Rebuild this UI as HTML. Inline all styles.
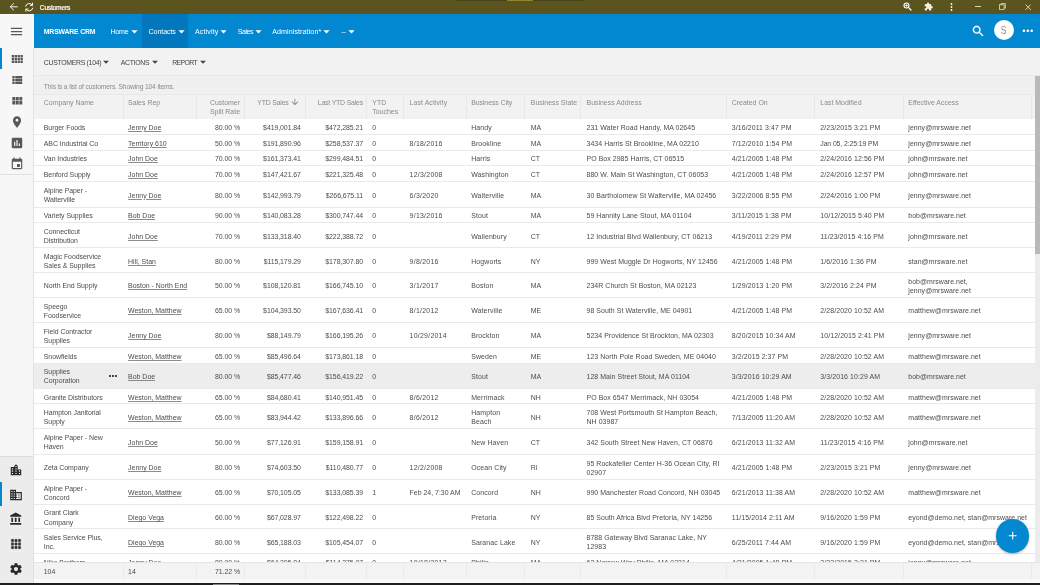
<!DOCTYPE html>
<html><head><meta charset="utf-8"><title>Customers</title>
<style>
html,body{margin:0;padding:0}
body{width:1040px;height:585px;overflow:hidden;position:relative;background:#f0f0f0;font-family:"Liberation Sans",sans-serif;font-size:6.95px;color:#4c4c4c;-webkit-font-smoothing:antialiased}
.abs,.ic,.c,.row,.t{position:absolute}
.ic{display:block}
.t{white-space:nowrap;line-height:10px}
#title{left:0;top:0;width:1040px;height:13.6px;background:#5b541f}
#nav{left:33.8px;top:13.6px;width:1006.2px;height:34.1px;background:#0288d1}
#side{left:0;top:13.6px;width:33.8px;height:571.4px;background:#f7f7f7}
#side2{left:0;top:456px;width:33.8px;height:129px;background:#ececec}
#tool{left:33.8px;top:47.7px;width:1006.2px;height:27.3px;background:#f2f2f2}
#thead{left:33.8px;top:93.5px;width:1000.9px;height:25.8px;background:#f2f2f2;border-top:1px solid #e9e9e9;box-sizing:border-box}
#tbody{left:33.8px;top:119.3px;width:1000.9px;height:443px;background:#fff;overflow:hidden}
.row{left:-33.8px;width:1040px;border-bottom:1px solid #eaeaea;box-sizing:border-box}
.row.sel{background:#ededed}
.r0 .c{top:0.9px}
.sel .c{top:0.6px}
.c{top:2.0px;bottom:0;display:flex;align-items:center;white-space:nowrap;line-height:9.1px}
.c.r{text-align:right}
.c u{text-decoration:underline;text-decoration-thickness:0.5px;text-underline-offset:0.9px;text-decoration-color:#8c8c8c}
.h{color:#8a8a8a;align-items:flex-start;top:0;padding-top:5.1px;line-height:8.9px}
.sep{position:absolute;top:0;bottom:0;width:1px;background:#e8e8e8}
#tfoot{left:33.8px;top:562px;width:1006.2px;height:17px;background:#f3f3f3;border-top:1px solid #e4e4e4;box-sizing:border-box}
</style></head><body><div id="wrap" style="position:absolute;left:0;top:0;width:1040px;height:585px;will-change:transform">

<div id="title" class="abs">
<div class="abs" style="left:455px;top:0;width:130px;height:0.8px;background:#4a4419"></div>
<div class="abs" style="left:507px;top:0;width:26px;height:0.9px;background:#8f8735"></div>
<svg class="ic" style="left:9.4px;top:2.3px;width:9.6px;height:9.6px" viewBox="0 0 20 20"><path d="M17.5 10H3M9.5 3.4L2.8 10l6.7 6.6" fill="none" stroke="#fff" stroke-width="1.9" stroke-linecap="round" stroke-linejoin="round"/></svg>
<svg class="ic" style="left:24.4px;top:2.3px;width:10.4px;height:10.4px" viewBox="0 0 20 20"><g fill="none" stroke="#fff" stroke-width="1.9" stroke-linecap="round" stroke-linejoin="round"><path d="M3.2 8.2A7 7 0 0 1 16 6.2M16.8 11.8A7 7 0 0 1 4 13.8"/><path d="M16.4 2.2v4.2h-4.2M3.6 17.8v-4.2h4.2"/></g></svg>
<div class="t" style="-webkit-text-stroke:0.2px #fff;left:39.8px;top:3.3px;color:#fff;font-size:6.7px;letter-spacing:-0.238px">Customers</div>
<svg class="ic" style="left:903.2px;top:2.4px;width:9px;height:9px" viewBox="0 0 18 18"><g fill="none" stroke="#fff" stroke-linecap="round"><circle cx="7" cy="7" r="5" stroke-width="2.2"/><path d="M10.8 10.8L16 16" stroke-width="2.6"/><path d="M4.6 7h4.8M7 4.6v4.8" stroke-width="1.5"/></g></svg>
<svg class="ic" style="left:924.20px;top:2.10px;width:9.2px;height:9.2px;" viewBox="0 0 24 24"><path fill="#f4f1e2" d="M20.5 11H19V7c0-1.1-.9-2-2-2h-4V3.5C13 2.12 11.88 1 10.5 1S8 2.12 8 3.5V5H4c-1.1 0-1.99.9-1.99 2v3.8H3.5c1.49 0 2.7 1.21 2.7 2.7s-1.21 2.7-2.7 2.7H2V20c0 1.1.9 2 2 2h3.8v-1.5c0-1.49 1.21-2.7 2.7-2.7 1.49 0 2.7 1.21 2.7 2.7V22H17c1.1 0 2-.9 2-2v-4h1.5c1.38 0 2.5-1.12 2.5-2.5S21.88 11 20.5 11z"/></svg>
<svg class="ic" style="left:949.5px;top:3.2px;width:3px;height:8px" viewBox="0 0 3 8"><g fill="#fff"><circle cx="1.5" cy="1" r="0.9"/><circle cx="1.5" cy="4" r="0.9"/><circle cx="1.5" cy="7" r="0.9"/></g></svg>
<div class="abs" style="left:975.2px;top:6.2px;width:5.6px;height:0.7px;background:#d9d5b8"></div>
<svg class="ic" style="left:998.8px;top:3.4px;width:7px;height:7px" viewBox="0 0 14 14"><g fill="none" stroke="#f4f1e2" stroke-width="1.4"><rect x="1.2" y="3.6" width="9" height="9"/><path d="M3.8 3.6V1.2h9v9h-2.6"/></g></svg>
<svg class="ic" style="left:1024.6px;top:3.6px;width:6.4px;height:6.4px" viewBox="0 0 12 12"><path d="M1 1l10 10M11 1L1 11" stroke="#f4f1e2" stroke-width="1.5" fill="none"/></svg>
</div>
<div id="side" class="abs"></div><div id="side2" class="abs"></div>
<div class="abs" style="left:33.4px;top:47.7px;width:0.8px;height:537px;background:#e2e2e2"></div>
<div class="abs" style="left:0;top:174.4px;width:33.8px;height:0.8px;background:#e0e0e0"></div>
<div class="abs" style="left:0;top:455.6px;width:33.8px;height:0.8px;background:#dcdcdc"></div>
<div class="abs" style="left:0;top:48.2px;width:1.7px;height:20.6px;background:#0288d1"></div>
<div class="abs" style="left:0;top:482.3px;width:2.2px;height:24px;background:#0288d1"></div>
<svg class="ic" style="left:9.20px;top:23.50px;width:15px;height:15px;" viewBox="0 0 24 24"><path fill="#585858" d="M3 18h18v-2H3v2zm0-5h18v-2H3v2zm0-7v2h18V6H3z"/></svg>
<svg class="ic" style="left:9.80px;top:51.50px;width:14px;height:14px;" viewBox="0 0 24 24"><path fill="#585858" d="M3 9h4V5H3v4zm0 5h4v-4H3v4zm5 0h4v-4H8v4zm5 0h4v-4h-4v4zM8 9h4V5H8v4zm5-4v4h4V5h-4zm5 9h4v-4h-4v4zM3 19h4v-4H3v4zm5 0h4v-4H8v4zm5 0h4v-4h-4v4zm5 0h4v-4h-4v4zm0-14v4h4V5h-4z"/></svg>
<svg class="ic" style="left:9.80px;top:72.60px;width:14px;height:14px;" viewBox="0 0 24 24"><path fill="#585858" d="M4 14h4v-4H4v4zm0 5h4v-4H4v4zM4 9h4V5H4v4zm5 5h12v-4H9v4zm0 5h12v-4H9v4zM9 5v4h12V5H9z"/></svg>
<svg class="ic" style="left:9.80px;top:93.60px;width:14px;height:14px;" viewBox="0 0 24 24"><path fill="#585858" d="M4 11h5V5H4v6zm0 7h5v-6H4v6zm6 0h5v-6h-5v6zm6 0h5v-6h-5v6zm-6-7h5V5h-5v6zm6-6v6h5V5h-5z"/></svg>
<svg class="ic" style="left:9.80px;top:115.20px;width:14px;height:14px;" viewBox="0 0 24 24"><path fill="#585858" d="M12 2C8.13 2 5 5.13 5 9c0 5.25 7 13 7 13s7-7.75 7-13c0-3.87-3.13-7-7-7zm0 9.5c-1.38 0-2.5-1.12-2.5-2.5s1.12-2.5 2.5-2.5 2.5 1.12 2.5 2.5-1.12 2.5-2.5 2.5z"/></svg>
<svg class="ic" style="left:9.80px;top:136.00px;width:14px;height:14px;" viewBox="0 0 24 24"><path fill="#585858" d="M19 3H5c-1.1 0-2 .9-2 2v14c0 1.1.9 2 2 2h14c1.1 0 2-.9 2-2V5c0-1.1-.9-2-2-2zM9 17H7v-7h2v7zm4 0h-2V7h2v10zm4 0h-2v-4h2v4z"/></svg>
<svg class="ic" style="left:9.80px;top:156.60px;width:14px;height:14px;" viewBox="0 0 24 24"><path fill="#585858" d="M17 12h-5v5h5v-5zM16 1v2H8V1H6v2H5c-1.11 0-1.99.9-1.99 2L3 19c0 1.1.89 2 2 2h14c1.1 0 2-.9 2-2V5c0-1.1-.9-2-2-2h-1V1h-2zm3 18H5V8h14v11z"/></svg>
<svg class="ic" style="left:9.20px;top:462.50px;width:14px;height:14px;" viewBox="0 0 24 24"><path fill="#2a2a2a" d="M15 11V5l-3-3-3 3v2H3v14h18V11h-6zm-8 8H5v-2h2v2zm0-4H5v-2h2v2zm0-4H5V9h2v2zm6 8h-2v-2h2v2zm0-4h-2v-2h2v2zm0-4h-2V9h2v2zm0-4h-2V5h2v2zm6 12h-2v-2h2v2zm0-4h-2v-2h2v2z"/></svg>
<svg class="ic" style="left:9.20px;top:487.60px;width:14px;height:14px;" viewBox="0 0 24 24"><path fill="#2a2a2a" d="M12 7V3H2v18h20V7H12zM6 19H4v-2h2v2zm0-4H4v-2h2v2zm0-4H4V9h2v2zm0-4H4V5h2v2zm4 12H8v-2h2v2zm0-4H8v-2h2v2zm0-4H8V9h2v2zm0-4H8V5h2v2zm10 12h-8v-2h2v-2h-2v-2h2v-2h-2V9h8v10zm-2-8h-2v2h2v-2zm0 4h-2v2h2v-2z"/></svg>
<svg class="ic" style="left:9.20px;top:512.40px;width:14px;height:14px;" viewBox="0 0 24 24"><path fill="#2a2a2a" d="M4 10v7h3v-7H4zm6 0v7h3v-7h-3zM2 22h19v-3H2v3zm14-12v7h3v-7h-3zm-4.5-9L2 6v2h19V6l-9.5-5z"/></svg>
<svg class="ic" style="left:9.20px;top:537.20px;width:14px;height:14px;stroke:#2a2a2a;stroke-width:0.5px" viewBox="0 0 24 24"><path fill="#2a2a2a" d="M4 8h4V4H4v4zm6 12h4v-4h-4v4zm-6 0h4v-4H4v4zm0-6h4v-4H4v4zm6 0h4v-4h-4v4zm6-10v4h4V4h-4zm-6 4h4V4h-4v4zm6 6h4v-4h-4v4zm0 6h4v-4h-4v4z"/></svg>
<svg class="ic" style="left:9.20px;top:562.40px;width:14px;height:14px;" viewBox="0 0 24 24"><path fill="#2a2a2a" d="M19.43 12.98c.04-.32.07-.64.07-.98s-.03-.66-.07-.98l2.11-1.65c.19-.15.24-.42.12-.64l-2-3.46c-.12-.22-.39-.3-.61-.22l-2.49 1c-.52-.4-1.08-.73-1.69-.98l-.38-2.65C14.46 2.18 14.25 2 14 2h-4c-.25 0-.46.18-.49.42l-.38 2.65c-.61.25-1.17.59-1.69.98l-2.49-1c-.23-.09-.49 0-.61.22l-2 3.46c-.13.22-.07.49.12.64l2.11 1.65c-.04.32-.07.65-.07.98s.03.66.07.98l-2.11 1.65c-.19.15-.24.42-.12.64l2 3.46c.12.22.39.3.61.22l2.49-1c.52.4 1.08.73 1.69.98l.38 2.65c.03.24.24.42.49.42h4c.25 0 .46-.18.49-.42l.38-2.65c.61-.25 1.17-.59 1.69-.98l2.49 1c.23.09.49 0 .61-.22l2-3.46c.12-.22.07-.49-.12-.64l-2.11-1.65zM12 15.5c-1.93 0-3.5-1.57-3.5-3.5s1.57-3.5 3.5-3.5 3.5 1.57 3.5 3.5-1.57 3.5-3.5 3.5z"/></svg>
<div id="nav" class="abs"></div>
<div class="abs" style="left:141.6px;top:13.6px;width:46.2px;height:34.1px;background:#0277bd"></div>
<div class="t" style="left:43.8px;top:26.8px;color:#fff;font-size:6.9px;letter-spacing:-0.190px;font-weight:bold">MRSWARE CRM</div>
<div class="t" style="left:110.4px;top:26.5px;color:#fff;font-size:7.1px;letter-spacing:-0.184px">Home</div>
<svg class="ic" style="left:127.40px;top:23.70px;width:15px;height:15px;" viewBox="0 0 24 24"><path fill="#fff" d="M7 10l5 5 5-5z"/></svg>
<div class="t" style="left:148.6px;top:26.5px;color:#fff;font-size:7.1px;letter-spacing:-0.100px">Contacts</div>
<svg class="ic" style="left:174.00px;top:23.70px;width:15px;height:15px;" viewBox="0 0 24 24"><path fill="#fff" d="M7 10l5 5 5-5z"/></svg>
<div class="t" style="left:195.0px;top:26.5px;color:#fff;font-size:7.1px;letter-spacing:0.116px">Activity</div>
<svg class="ic" style="left:216.30px;top:23.70px;width:15px;height:15px;" viewBox="0 0 24 24"><path fill="#fff" d="M7 10l5 5 5-5z"/></svg>
<div class="t" style="left:237.7px;top:26.5px;color:#fff;font-size:7.1px;letter-spacing:-0.450px">Sales</div>
<svg class="ic" style="left:251.20px;top:23.70px;width:15px;height:15px;" viewBox="0 0 24 24"><path fill="#fff" d="M7 10l5 5 5-5z"/></svg>
<div class="t" style="left:272.2px;top:26.5px;color:#fff;font-size:7.1px;letter-spacing:0.092px">Administration*</div>
<svg class="ic" style="left:319.40px;top:23.70px;width:15px;height:15px;" viewBox="0 0 24 24"><path fill="#fff" d="M7 10l5 5 5-5z"/></svg>
<div class="t" style="left:341.6px;top:26.5px;color:#fff;font-size:7.1px;letter-spacing:-0.167px">--</div>
<svg class="ic" style="left:344.40px;top:23.70px;width:15px;height:15px;" viewBox="0 0 24 24"><path fill="#fff" d="M7 10l5 5 5-5z"/></svg>
<svg class="ic" style="left:970.70px;top:23.70px;width:14.4px;height:14.4px;stroke:#fff;stroke-width:0.5px" viewBox="0 0 24 24"><path fill="#fff" d="M15.5 14h-.79l-.28-.27C15.41 12.59 16 11.11 16 9.5 16 5.91 13.09 3 9.5 3S3 5.91 3 9.5 5.91 16 9.5 16c1.61 0 3.09-.59 4.23-1.57l.27.28v.79l5 4.99L20.49 19l-4.99-5zm-6 0C7.01 14 5 11.99 5 9.5S7.01 5 9.5 5 14 7.01 14 9.5 11.99 14 9.5 14z"/></svg>
<div class="abs" style="left:993.6px;top:20.1px;width:20.4px;height:20.4px;border-radius:50%;background:#fff"></div>
<div class="t" style="left:1000.3px;top:25.3px;color:#8c8c8c;font-size:10.6px;transform:scaleX(0.8);transform-origin:50% 50%">S</div>
<svg class="ic" style="left:1019.90px;top:22.90px;width:15.6px;height:15.6px;" viewBox="0 0 24 24"><path fill="#fff" d="M6 10c-1.1 0-2 .9-2 2s.9 2 2 2 2-.9 2-2-.9-2-2-2zm12 0c-1.1 0-2 .9-2 2s.9 2 2 2 2-.9 2-2-.9-2-2-2zm-6 0c-1.1 0-2 .9-2 2s.9 2 2 2 2-.9 2-2-.9-2-2-2z"/></svg>
<div id="tool" class="abs"></div>
<div class="abs" style="left:33.8px;top:74.5px;width:1006.2px;height:0.9px;background:#e8e8e8"></div>
<div class="t" style="left:43.8px;top:57.6px;color:#444;font-size:6.9px;letter-spacing:-0.300px">CUSTOMERS (104)</div>
<svg class="ic" style="left:99.40px;top:55.20px;width:14px;height:14px;" viewBox="0 0 24 24"><path fill="#444" d="M7 10l5 5 5-5z"/></svg>
<div class="t" style="left:120.8px;top:57.6px;color:#444;font-size:6.9px;letter-spacing:-0.320px">ACTIONS</div>
<svg class="ic" style="left:147.60px;top:55.20px;width:14px;height:14px;" viewBox="0 0 24 24"><path fill="#444" d="M7 10l5 5 5-5z"/></svg>
<div class="t" style="left:172.3px;top:57.6px;color:#444;font-size:6.9px;letter-spacing:-0.649px">REPORT</div>
<svg class="ic" style="left:195.50px;top:55.20px;width:14px;height:14px;" viewBox="0 0 24 24"><path fill="#444" d="M7 10l5 5 5-5z"/></svg>
<div class="t" style="left:43.8px;top:82.4px;color:#8a8a8a;font-size:6.7px;letter-spacing:-0.139px">This is a list of customers. Showing 104 items.</div>
<div id="thead" class="abs">
<div class="sep" style="left:89.1px"></div>
<div class="sep" style="left:162.0px"></div>
<div class="sep" style="left:210.3px"></div>
<div class="sep" style="left:271.2px"></div>
<div class="sep" style="left:332.7px"></div>
<div class="sep" style="left:369.7px"></div>
<div class="sep" style="left:432.2px"></div>
<div class="sep" style="left:490.7px"></div>
<div class="sep" style="left:546.7px"></div>
<div class="sep" style="left:692.7px"></div>
<div class="sep" style="left:780.7px"></div>
<div class="sep" style="left:869.2px"></div>
<div class="sep" style="left:997.0px"></div>
</div>
<div class="abs" style="left:0;top:93.5px;width:1040px;height:25.8px">
<div class="c h" style="left:43.8px">Company Name</div>
<div class="c h" style="left:128.1px">Sales Rep</div>
<div class="c r h" style="right:800.0px">Customer<br>Split Rate</div>
<div class="c r h" style="right:751.4px;letter-spacing:-0.2px">YTD Sales</div>
<div class="c r h" style="right:677.0px;letter-spacing:-0.2px">Last YTD Sales</div>
<div class="c h" style="left:372.3px">YTD<br>Touches</div>
<div class="c h" style="left:409.6px;letter-spacing:0.08px">Last Activity</div>
<div class="c h" style="left:471.2px;letter-spacing:-0.08px">Business City</div>
<div class="c h" style="left:530.8px">Business State</div>
<div class="c h" style="left:586.5px">Business Address</div>
<div class="c h" style="left:731.8px">Created On</div>
<div class="c h" style="left:820.3px">Last Modified</div>
<div class="c h" style="left:908.3px">Effective Access</div>
</div>
<svg class="ic" style="left:290.40px;top:97.40px;width:9.8px;height:9.8px;" viewBox="0 0 24 24"><path fill="#8a8a8a" d="M20 12l-1.41-1.41L13 16.17V4h-2v12.17l-5.58-5.59L4 12l8 8 8-8z"/></svg>
<div class="abs" style="left:1034.7px;top:75.6px;width:5.3px;height:486.4px;background:#ececec"></div>
<div class="abs" style="left:1034.7px;top:75.6px;width:5.3px;height:178.7px;background:#b9b9b9"></div>
<div id="tbody" class="abs">
<div class="row r0" style="top:0.6px;height:15.0px">
<div class="c " style="left:43.8px;letter-spacing:-0.05px">Burger Foods</div>
<div class="c " style="left:128.1px"><u>Jenny Doe</u></div>
<div class="c r " style="right:800.0px;letter-spacing:-0.07px">80.00 %</div>
<div class="c r " style="right:739.2px;letter-spacing:-0.08px">$419,001.84</div>
<div class="c r " style="right:677.0px;letter-spacing:-0.08px">$472,285.21</div>
<div class="c " style="left:372.3px">0</div>
<div class="c " style="left:471.2px;letter-spacing:0.12px">Handy</div>
<div class="c " style="left:530.8px">MA</div>
<div class="c " style="left:586.5px;letter-spacing:0.06px">231 Water Road Handy, MA 02645</div>
<div class="c " style="left:731.8px;letter-spacing:0.1px">3/16/2011 3:47 PM</div>
<div class="c " style="left:820.3px;letter-spacing:0.09px">2/23/2015 3:21 PM</div>
<div class="c " style="left:908.3px;letter-spacing:0.05px">jenny@mrsware.net</div>
</div>
<div class="row" style="top:15.6px;height:16.1px">
<div class="c " style="left:43.8px;letter-spacing:-0.05px">ABC Industrial Co</div>
<div class="c " style="left:128.1px"><u>Territory 610</u></div>
<div class="c r " style="right:800.0px;letter-spacing:-0.07px">50.00 %</div>
<div class="c r " style="right:739.2px;letter-spacing:-0.08px">$191,890.96</div>
<div class="c r " style="right:677.0px;letter-spacing:-0.08px">$258,537.37</div>
<div class="c " style="left:372.3px">0</div>
<div class="c " style="left:409.6px;letter-spacing:0.25px">8/18/2016</div>
<div class="c " style="left:471.2px;letter-spacing:0.12px">Brookline</div>
<div class="c " style="left:530.8px">MA</div>
<div class="c " style="left:586.5px;letter-spacing:0.06px">3434 Harris St Brookline, MA 02210</div>
<div class="c " style="left:731.8px;letter-spacing:0.1px">7/12/2010 1:54 PM</div>
<div class="c " style="left:820.3px;letter-spacing:-0.13px">Jan 05, 2:25:19 PM</div>
<div class="c " style="left:908.3px;letter-spacing:0.05px">jenny@mrsware.net</div>
</div>
<div class="row" style="top:31.7px;height:15.0px">
<div class="c " style="left:43.8px;letter-spacing:-0.05px">Van Industries</div>
<div class="c " style="left:128.1px"><u>John Doe</u></div>
<div class="c r " style="right:800.0px;letter-spacing:-0.07px">70.00 %</div>
<div class="c r " style="right:739.2px;letter-spacing:-0.08px">$161,373.41</div>
<div class="c r " style="right:677.0px;letter-spacing:-0.08px">$299,484.51</div>
<div class="c " style="left:372.3px">0</div>
<div class="c " style="left:471.2px;letter-spacing:0.12px">Harris</div>
<div class="c " style="left:530.8px">CT</div>
<div class="c " style="left:586.5px;letter-spacing:0.06px">PO Box 2985 Harris, CT 06515</div>
<div class="c " style="left:731.8px;letter-spacing:0.1px">4/21/2005 1:48 PM</div>
<div class="c " style="left:820.3px;letter-spacing:0.09px">2/24/2016 12:56 PM</div>
<div class="c " style="left:908.3px;letter-spacing:0.05px">john@mrsware.net</div>
</div>
<div class="row" style="top:46.7px;height:15.6px">
<div class="c " style="left:43.8px;letter-spacing:-0.05px">Benford Supply</div>
<div class="c " style="left:128.1px"><u>John Doe</u></div>
<div class="c r " style="right:800.0px;letter-spacing:-0.07px">70.00 %</div>
<div class="c r " style="right:739.2px;letter-spacing:-0.08px">$147,421.67</div>
<div class="c r " style="right:677.0px;letter-spacing:-0.08px">$221,325.48</div>
<div class="c " style="left:372.3px">0</div>
<div class="c " style="left:409.6px;letter-spacing:0.25px">12/3/2008</div>
<div class="c " style="left:471.2px;letter-spacing:0.12px">Washington</div>
<div class="c " style="left:530.8px">CT</div>
<div class="c " style="left:586.5px;letter-spacing:0.06px">880 W. Main St Washington, CT 06053</div>
<div class="c " style="left:731.8px;letter-spacing:0.1px">4/21/2005 1:48 PM</div>
<div class="c " style="left:820.3px;letter-spacing:0.09px">2/24/2016 12:57 PM</div>
<div class="c " style="left:908.3px;letter-spacing:0.05px">john@mrsware.net</div>
</div>
<div class="row" style="top:62.3px;height:26.0px">
<div class="c " style="left:43.8px;letter-spacing:-0.05px">Alpine Paper -<br>Walterville</div>
<div class="c " style="left:128.1px"><u>Jenny Doe</u></div>
<div class="c r " style="right:800.0px;letter-spacing:-0.07px">80.00 %</div>
<div class="c r " style="right:739.2px;letter-spacing:-0.08px">$142,993.79</div>
<div class="c r " style="right:677.0px;letter-spacing:-0.08px">$266,675.11</div>
<div class="c " style="left:372.3px">0</div>
<div class="c " style="left:409.6px;letter-spacing:0.25px">6/3/2020</div>
<div class="c " style="left:471.2px;letter-spacing:0.12px">Walterville</div>
<div class="c " style="left:530.8px">MA</div>
<div class="c " style="left:586.5px;letter-spacing:0.06px">30 Bartholomew St Walterville, MA 02456</div>
<div class="c " style="left:731.8px;letter-spacing:0.1px">3/22/2006 8:55 PM</div>
<div class="c " style="left:820.3px;letter-spacing:0.09px">2/24/2016 1:00 PM</div>
<div class="c " style="left:908.3px;letter-spacing:0.05px">jenny@mrsware.net</div>
</div>
<div class="row" style="top:88.3px;height:15.6px">
<div class="c " style="left:43.8px;letter-spacing:-0.05px">Variety Supplies</div>
<div class="c " style="left:128.1px"><u>Bob Doe</u></div>
<div class="c r " style="right:800.0px;letter-spacing:-0.07px">90.00 %</div>
<div class="c r " style="right:739.2px;letter-spacing:-0.08px">$140,083.28</div>
<div class="c r " style="right:677.0px;letter-spacing:-0.08px">$300,747.44</div>
<div class="c " style="left:372.3px">0</div>
<div class="c " style="left:409.6px;letter-spacing:0.25px">9/13/2016</div>
<div class="c " style="left:471.2px;letter-spacing:0.12px">Stout</div>
<div class="c " style="left:530.8px">MA</div>
<div class="c " style="left:586.5px;letter-spacing:0.06px">59 Hannity Lane Stout, MA 01104</div>
<div class="c " style="left:731.8px;letter-spacing:0.1px">3/11/2015 1:38 PM</div>
<div class="c " style="left:820.3px;letter-spacing:0.09px">10/12/2015 5:40 PM</div>
<div class="c " style="left:908.3px;letter-spacing:0.05px">bob@mrsware.net</div>
</div>
<div class="row" style="top:103.9px;height:25.1px">
<div class="c " style="left:43.8px;letter-spacing:-0.05px">Connecticut<br>Distribution</div>
<div class="c " style="left:128.1px"><u>John Doe</u></div>
<div class="c r " style="right:800.0px;letter-spacing:-0.07px">70.00 %</div>
<div class="c r " style="right:739.2px;letter-spacing:-0.08px">$133,318.40</div>
<div class="c r " style="right:677.0px;letter-spacing:-0.08px">$222,388.72</div>
<div class="c " style="left:372.3px">0</div>
<div class="c " style="left:471.2px;letter-spacing:0.12px">Wallenbury</div>
<div class="c " style="left:530.8px">CT</div>
<div class="c " style="left:586.5px;letter-spacing:0.06px">12 Industrial Blvd Wallenbury, CT 06213</div>
<div class="c " style="left:731.8px;letter-spacing:0.1px">4/19/2011 2:29 PM</div>
<div class="c " style="left:820.3px;letter-spacing:0.09px">11/23/2015 4:16 PM</div>
<div class="c " style="left:908.3px;letter-spacing:0.05px">john@mrsware.net</div>
</div>
<div class="row" style="top:129.0px;height:24.9px">
<div class="c " style="left:43.8px;letter-spacing:-0.05px">Magic Foodservice<br>Sales &amp; Supplies</div>
<div class="c " style="left:128.1px"><u>Hill, Stan</u></div>
<div class="c r " style="right:800.0px;letter-spacing:-0.07px">80.00 %</div>
<div class="c r " style="right:739.2px;letter-spacing:-0.08px">$115,179.29</div>
<div class="c r " style="right:677.0px;letter-spacing:-0.08px">$178,307.80</div>
<div class="c " style="left:372.3px">0</div>
<div class="c " style="left:409.6px;letter-spacing:0.25px">9/8/2016</div>
<div class="c " style="left:471.2px;letter-spacing:0.12px">Hogworts</div>
<div class="c " style="left:530.8px">NY</div>
<div class="c " style="left:586.5px;letter-spacing:0.06px">999 West Muggle Dr Hogworts, NY 12456</div>
<div class="c " style="left:731.8px;letter-spacing:0.1px">4/21/2005 1:48 PM</div>
<div class="c " style="left:820.3px;letter-spacing:0.09px">1/6/2016 1:36 PM</div>
<div class="c " style="left:908.3px;letter-spacing:0.05px">stan@mrsware.net</div>
</div>
<div class="row" style="top:153.9px;height:24.6px">
<div class="c " style="left:43.8px;letter-spacing:-0.05px">North End Supply</div>
<div class="c " style="left:128.1px"><u>Boston - North End</u></div>
<div class="c r " style="right:800.0px;letter-spacing:-0.07px">50.00 %</div>
<div class="c r " style="right:739.2px;letter-spacing:-0.08px">$108,120.81</div>
<div class="c r " style="right:677.0px;letter-spacing:-0.08px">$166,745.10</div>
<div class="c " style="left:372.3px">0</div>
<div class="c " style="left:409.6px;letter-spacing:0.25px">3/1/2017</div>
<div class="c " style="left:471.2px;letter-spacing:0.12px">Boston</div>
<div class="c " style="left:530.8px">MA</div>
<div class="c " style="left:586.5px;letter-spacing:0.06px">234R Church St Boston, MA 02123</div>
<div class="c " style="left:731.8px;letter-spacing:0.1px">1/29/2013 1:20 PM</div>
<div class="c " style="left:820.3px;letter-spacing:0.09px">3/2/2016 2:24 PM</div>
<div class="c " style="left:908.3px;letter-spacing:0.05px">bob@mrsware.net,<br>jenny@mrsware.net</div>
</div>
<div class="row" style="top:178.5px;height:24.9px">
<div class="c " style="left:43.8px;letter-spacing:-0.05px">Speego<br>Foodservice</div>
<div class="c " style="left:128.1px"><u>Weston, Matthew</u></div>
<div class="c r " style="right:800.0px;letter-spacing:-0.07px">65.00 %</div>
<div class="c r " style="right:739.2px;letter-spacing:-0.08px">$104,393.50</div>
<div class="c r " style="right:677.0px;letter-spacing:-0.08px">$167,636.41</div>
<div class="c " style="left:372.3px">0</div>
<div class="c " style="left:409.6px;letter-spacing:0.25px">8/1/2012</div>
<div class="c " style="left:471.2px;letter-spacing:0.12px">Waterville</div>
<div class="c " style="left:530.8px">ME</div>
<div class="c " style="left:586.5px;letter-spacing:0.06px">98 South St Waterville, ME 04901</div>
<div class="c " style="left:731.8px;letter-spacing:0.1px">4/21/2005 1:48 PM</div>
<div class="c " style="left:820.3px;letter-spacing:0.09px">2/28/2020 10:52 AM</div>
<div class="c " style="left:908.3px;letter-spacing:0.05px">matthew@mrsware.net</div>
</div>
<div class="row" style="top:203.4px;height:25.3px">
<div class="c " style="left:43.8px;letter-spacing:-0.05px">Field Contractor<br>Supplies</div>
<div class="c " style="left:128.1px"><u>Jenny Doe</u></div>
<div class="c r " style="right:800.0px;letter-spacing:-0.07px">80.00 %</div>
<div class="c r " style="right:739.2px;letter-spacing:-0.08px">$88,149.79</div>
<div class="c r " style="right:677.0px;letter-spacing:-0.08px">$166,195.26</div>
<div class="c " style="left:372.3px">0</div>
<div class="c " style="left:409.6px;letter-spacing:0.25px">10/29/2014</div>
<div class="c " style="left:471.2px;letter-spacing:0.12px">Brockton</div>
<div class="c " style="left:530.8px">MA</div>
<div class="c " style="left:586.5px;letter-spacing:0.06px">5234 Providence St Brockton, MA 02303</div>
<div class="c " style="left:731.8px;letter-spacing:0.1px">8/20/2015 10:34 AM</div>
<div class="c " style="left:820.3px;letter-spacing:0.09px">10/12/2015 2:41 PM</div>
<div class="c " style="left:908.3px;letter-spacing:0.05px">jenny@mrsware.net</div>
</div>
<div class="row" style="top:228.7px;height:15.9px">
<div class="c " style="left:43.8px;letter-spacing:-0.05px">Snowfields</div>
<div class="c " style="left:128.1px"><u>Weston, Matthew</u></div>
<div class="c r " style="right:800.0px;letter-spacing:-0.07px">65.00 %</div>
<div class="c r " style="right:739.2px;letter-spacing:-0.08px">$85,496.64</div>
<div class="c r " style="right:677.0px;letter-spacing:-0.08px">$173,861.18</div>
<div class="c " style="left:372.3px">0</div>
<div class="c " style="left:471.2px;letter-spacing:0.12px">Sweden</div>
<div class="c " style="left:530.8px">ME</div>
<div class="c " style="left:586.5px;letter-spacing:0.06px">123 North Pole Road Sweden, ME 04040</div>
<div class="c " style="left:731.8px;letter-spacing:0.1px">3/2/2015 2:37 PM</div>
<div class="c " style="left:820.3px;letter-spacing:0.09px">2/28/2020 10:52 AM</div>
<div class="c " style="left:908.3px;letter-spacing:0.05px">matthew@mrsware.net</div>
</div>
<div class="row sel" style="top:244.6px;height:25.4px">
<div class="c " style="left:43.8px;letter-spacing:-0.05px">Supplies<br>Corporation</div>
<div class="c " style="left:128.1px"><u>Bob Doe</u></div>
<div class="c r " style="right:800.0px;letter-spacing:-0.07px">80.00 %</div>
<div class="c r " style="right:739.2px;letter-spacing:-0.08px">$85,477.46</div>
<div class="c r " style="right:677.0px;letter-spacing:-0.08px">$156,419.22</div>
<div class="c " style="left:372.3px">0</div>
<div class="c " style="left:471.2px;letter-spacing:0.12px">Stout</div>
<div class="c " style="left:530.8px">MA</div>
<div class="c " style="left:586.5px;letter-spacing:0.06px">128 Main Street Stout, MA 01104</div>
<div class="c " style="left:731.8px;letter-spacing:0.1px">3/3/2016 10:29 AM</div>
<div class="c " style="left:820.3px;letter-spacing:0.09px">3/3/2016 10:29 AM</div>
<div class="c " style="left:908.3px;letter-spacing:0.05px">bob@mrsware.net</div>
<svg class="ic" style="left:106.70px;top:6.40px;width:12px;height:12px;" viewBox="0 0 24 24"><path fill="#222" d="M6 10c-1.1 0-2 .9-2 2s.9 2 2 2 2-.9 2-2-.9-2-2-2zm12 0c-1.1 0-2 .9-2 2s.9 2 2 2 2-.9 2-2-.9-2-2-2zm-6 0c-1.1 0-2 .9-2 2s.9 2 2 2 2-.9 2-2-.9-2-2-2z"/></svg>
</div>
<div class="row" style="top:270.0px;height:15.1px">
<div class="c " style="left:43.8px;letter-spacing:-0.05px">Granite Distributors</div>
<div class="c " style="left:128.1px"><u>Weston, Matthew</u></div>
<div class="c r " style="right:800.0px;letter-spacing:-0.07px">65.00 %</div>
<div class="c r " style="right:739.2px;letter-spacing:-0.08px">$84,680.41</div>
<div class="c r " style="right:677.0px;letter-spacing:-0.08px">$140,951.45</div>
<div class="c " style="left:372.3px">0</div>
<div class="c " style="left:409.6px;letter-spacing:0.25px">8/6/2012</div>
<div class="c " style="left:471.2px;letter-spacing:0.12px">Merrimack</div>
<div class="c " style="left:530.8px">NH</div>
<div class="c " style="left:586.5px;letter-spacing:0.06px">PO Box 6547 Merrimack, NH 03054</div>
<div class="c " style="left:731.8px;letter-spacing:0.1px">4/21/2005 1:48 PM</div>
<div class="c " style="left:820.3px;letter-spacing:0.09px">2/28/2020 10:52 AM</div>
<div class="c " style="left:908.3px;letter-spacing:0.05px">matthew@mrsware.net</div>
</div>
<div class="row" style="top:285.1px;height:24.7px">
<div class="c " style="left:43.8px;letter-spacing:-0.05px">Hampton Janitorial<br>Supply</div>
<div class="c " style="left:128.1px"><u>Weston, Matthew</u></div>
<div class="c r " style="right:800.0px;letter-spacing:-0.07px">65.00 %</div>
<div class="c r " style="right:739.2px;letter-spacing:-0.08px">$83,944.42</div>
<div class="c r " style="right:677.0px;letter-spacing:-0.08px">$133,896.66</div>
<div class="c " style="left:372.3px">0</div>
<div class="c " style="left:409.6px;letter-spacing:0.25px">8/6/2012</div>
<div class="c " style="left:471.2px;letter-spacing:0.12px">Hampton<br>Beach</div>
<div class="c " style="left:530.8px">NH</div>
<div class="c " style="left:586.5px;letter-spacing:0.06px">708 West Portsmouth St Hampton Beach,<br>NH 03987</div>
<div class="c " style="left:731.8px;letter-spacing:0.1px">7/13/2005 11:20 AM</div>
<div class="c " style="left:820.3px;letter-spacing:0.09px">2/28/2020 10:52 AM</div>
<div class="c " style="left:908.3px;letter-spacing:0.05px">matthew@mrsware.net</div>
</div>
<div class="row" style="top:309.8px;height:25.5px">
<div class="c " style="left:43.8px;letter-spacing:-0.05px">Alpine Paper - New<br>Haven</div>
<div class="c " style="left:128.1px"><u>John Doe</u></div>
<div class="c r " style="right:800.0px;letter-spacing:-0.07px">50.00 %</div>
<div class="c r " style="right:739.2px;letter-spacing:-0.08px">$77,126.91</div>
<div class="c r " style="right:677.0px;letter-spacing:-0.08px">$159,158.91</div>
<div class="c " style="left:372.3px">0</div>
<div class="c " style="left:471.2px;letter-spacing:0.12px">New Haven</div>
<div class="c " style="left:530.8px">CT</div>
<div class="c " style="left:586.5px;letter-spacing:0.06px">342 South Street New Haven, CT 06876</div>
<div class="c " style="left:731.8px;letter-spacing:0.1px">6/21/2013 11:32 AM</div>
<div class="c " style="left:820.3px;letter-spacing:0.09px">11/23/2015 4:16 PM</div>
<div class="c " style="left:908.3px;letter-spacing:0.05px">john@mrsware.net</div>
</div>
<div class="row" style="top:335.3px;height:25.3px">
<div class="c " style="left:43.8px;letter-spacing:-0.05px">Zeta Company</div>
<div class="c " style="left:128.1px"><u>Jenny Doe</u></div>
<div class="c r " style="right:800.0px;letter-spacing:-0.07px">80.00 %</div>
<div class="c r " style="right:739.2px;letter-spacing:-0.08px">$74,603.50</div>
<div class="c r " style="right:677.0px;letter-spacing:-0.08px">$110,480.77</div>
<div class="c " style="left:372.3px">0</div>
<div class="c " style="left:409.6px;letter-spacing:0.25px">12/2/2008</div>
<div class="c " style="left:471.2px;letter-spacing:0.12px">Ocean City</div>
<div class="c " style="left:530.8px">RI</div>
<div class="c " style="left:586.5px;letter-spacing:0.06px">95 Rockafeller Center H-36 Ocean City, RI<br>02907</div>
<div class="c " style="left:731.8px;letter-spacing:0.1px">4/21/2005 1:48 PM</div>
<div class="c " style="left:820.3px;letter-spacing:0.09px">2/23/2015 3:21 PM</div>
<div class="c " style="left:908.3px;letter-spacing:0.05px">jenny@mrsware.net</div>
</div>
<div class="row" style="top:360.6px;height:24.9px">
<div class="c " style="left:43.8px;letter-spacing:-0.05px">Alpine Paper -<br>Concord</div>
<div class="c " style="left:128.1px"><u>Weston, Matthew</u></div>
<div class="c r " style="right:800.0px;letter-spacing:-0.07px">65.00 %</div>
<div class="c r " style="right:739.2px;letter-spacing:-0.08px">$70,105.05</div>
<div class="c r " style="right:677.0px;letter-spacing:-0.08px">$133,085.39</div>
<div class="c " style="left:372.3px">1</div>
<div class="c " style="left:409.6px">Feb 24, 7:30 AM</div>
<div class="c " style="left:471.2px;letter-spacing:0.12px">Concord</div>
<div class="c " style="left:530.8px">NH</div>
<div class="c " style="left:586.5px;letter-spacing:0.06px">990 Manchester Road Concord, NH 03045</div>
<div class="c " style="left:731.8px;letter-spacing:0.1px">6/21/2013 11:38 AM</div>
<div class="c " style="left:820.3px;letter-spacing:0.09px">2/28/2020 10:52 AM</div>
<div class="c " style="left:908.3px;letter-spacing:0.05px">matthew@mrsware.net</div>
</div>
<div class="row" style="top:385.5px;height:24.5px">
<div class="c " style="left:43.8px;letter-spacing:-0.05px">Grant Clark<br>Company</div>
<div class="c " style="left:128.1px"><u>Diego Vega</u></div>
<div class="c r " style="right:800.0px;letter-spacing:-0.07px">60.00 %</div>
<div class="c r " style="right:739.2px;letter-spacing:-0.08px">$67,028.97</div>
<div class="c r " style="right:677.0px;letter-spacing:-0.08px">$122,498.22</div>
<div class="c " style="left:372.3px">0</div>
<div class="c " style="left:471.2px;letter-spacing:0.12px">Pretoria</div>
<div class="c " style="left:530.8px">NY</div>
<div class="c " style="left:586.5px;letter-spacing:0.06px">85 South Africa Blvd Pretoria, NY 14256</div>
<div class="c " style="left:731.8px;letter-spacing:0.1px">11/15/2014 2:11 AM</div>
<div class="c " style="left:820.3px;letter-spacing:0.09px">9/16/2020 1:59 PM</div>
<div class="c " style="left:908.3px;letter-spacing:0.05px">eyond@demo.net, stan@mrsware.net</div>
</div>
<div class="row" style="top:410.0px;height:25.2px">
<div class="c " style="left:43.8px;letter-spacing:-0.05px">Sales Service Plus,<br>Inc.</div>
<div class="c " style="left:128.1px"><u>Diego Vega</u></div>
<div class="c r " style="right:800.0px;letter-spacing:-0.07px">80.00 %</div>
<div class="c r " style="right:739.2px;letter-spacing:-0.08px">$65,188.03</div>
<div class="c r " style="right:677.0px;letter-spacing:-0.08px">$105,454.07</div>
<div class="c " style="left:372.3px">0</div>
<div class="c " style="left:471.2px;letter-spacing:0.12px">Saranac Lake</div>
<div class="c " style="left:530.8px">NY</div>
<div class="c " style="left:586.5px;letter-spacing:0.06px">8788 Gateway Blvd Saranac Lake, NY<br>12983</div>
<div class="c " style="left:731.8px;letter-spacing:0.1px">6/25/2011 7:44 AM</div>
<div class="c " style="left:820.3px;letter-spacing:0.09px">9/16/2020 1:59 PM</div>
<div class="c " style="left:908.3px;letter-spacing:0.05px">eyond@demo.net, stan@mrsware.net</div>
</div>
<div class="row" style="top:435.2px;height:15.6px">
<div class="c " style="left:43.8px;letter-spacing:-0.05px">Nike Brothers</div>
<div class="c " style="left:128.1px"><u>Jenny Doe</u></div>
<div class="c r " style="right:800.0px;letter-spacing:-0.07px">80.00 %</div>
<div class="c r " style="right:739.2px;letter-spacing:-0.08px">$64,205.84</div>
<div class="c r " style="right:677.0px;letter-spacing:-0.08px">$114,375.07</div>
<div class="c " style="left:372.3px">0</div>
<div class="c " style="left:409.6px;letter-spacing:0.25px">10/18/2017</div>
<div class="c " style="left:471.2px;letter-spacing:0.12px">Philip</div>
<div class="c " style="left:530.8px">MA</div>
<div class="c " style="left:586.5px;letter-spacing:0.06px">62 Narrow Way Philip, MA 02314</div>
<div class="c " style="left:731.8px;letter-spacing:0.1px">4/21/2005 1:48 PM</div>
<div class="c " style="left:820.3px;letter-spacing:0.09px">2/23/2015 3:21 PM</div>
<div class="c " style="left:908.3px;letter-spacing:0.05px">jenny@mrsware.net</div>
</div>
</div>
<div id="tfoot" class="abs">
<div class="sep" style="left:89.1px;background:#eaeaea"></div>
<div class="sep" style="left:162.0px;background:#eaeaea"></div>
<div class="sep" style="left:210.3px;background:#eaeaea"></div>
<div class="sep" style="left:271.2px;background:#eaeaea"></div>
<div class="sep" style="left:332.7px;background:#eaeaea"></div>
<div class="sep" style="left:369.7px;background:#eaeaea"></div>
<div class="sep" style="left:432.2px;background:#eaeaea"></div>
<div class="sep" style="left:490.7px;background:#eaeaea"></div>
<div class="sep" style="left:546.7px;background:#eaeaea"></div>
<div class="sep" style="left:692.7px;background:#eaeaea"></div>
<div class="sep" style="left:780.7px;background:#eaeaea"></div>
<div class="sep" style="left:869.2px;background:#eaeaea"></div>
<div class="sep" style="left:997.0px;background:#eaeaea"></div>
</div>
<div class="abs" style="left:0;top:562px;width:1040px;height:16.6px">
<div class="c " style="left:43.8px;letter-spacing:-0.05px">104</div>
<div class="c " style="left:128.1px">14</div>
<div class="c r " style="right:800.0px;letter-spacing:-0.07px">71.22 %</div>
</div>
<div class="abs" style="left:33.8px;top:579px;width:1006.2px;height:4px;background:#f9f9f9"></div>
<div class="abs" style="left:996.1px;top:519.3px;width:33.4px;height:33.4px;border-radius:50%;background:#0288d1;box-shadow:0 1px 2.5px rgba(0,0,0,.28)"></div>
<svg class="ic" style="left:1006.10px;top:529.30px;width:13.4px;height:13.4px;" viewBox="0 0 24 24"><path fill="#fff" d="M19 13h-6v6h-2v-6H5v-2h6V5h2v6h6v2z"/></svg>
<div class="abs" style="left:0;top:583px;width:1040px;height:2px;background:#1f1f1f"></div>
<div class="abs" style="left:213px;top:584px;width:26px;height:1px;background:#858585"></div>
</div></body></html>
